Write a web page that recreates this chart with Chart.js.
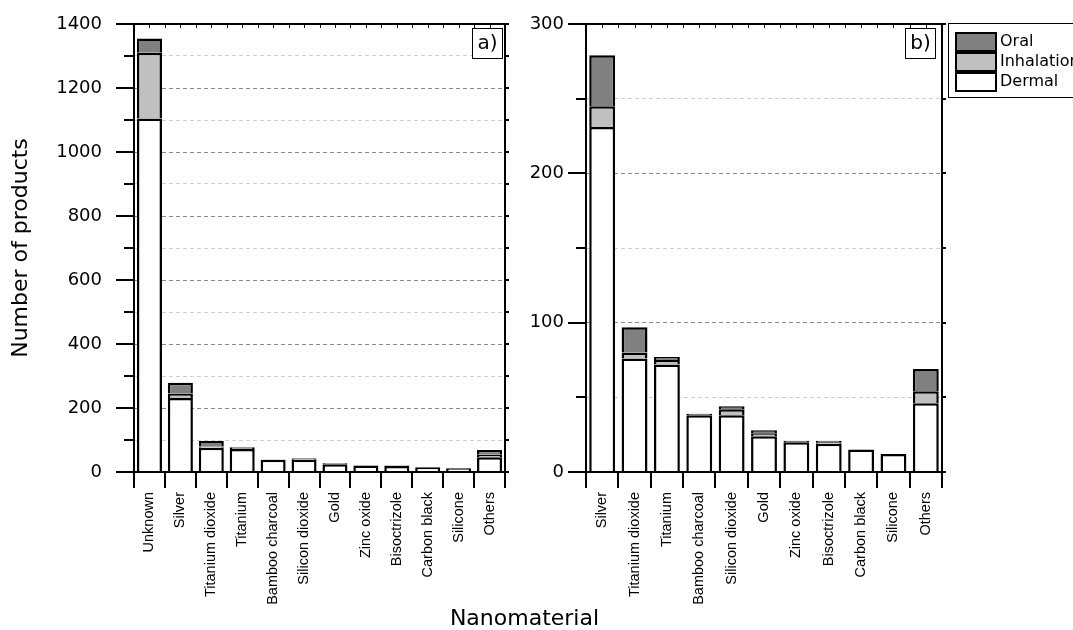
<!DOCTYPE html>
<html>
<head>
<meta charset="utf-8">
<script src="https://cdn.jsdelivr.net/npm/chart.js@4"></script>
<style>
  html, body { margin: 0; padding: 0; background: #fff; }
  #wrap { position: relative; width: 1073px; height: 630px; overflow: hidden; }
  canvas { position: absolute; top: 0; }
  #cA { left: 0; }
  #cB { left: 505px; }
  #xtitle { position: absolute; left: 0; width: 1049px; top: 605px; text-align: center;
            font-family: 'DejaVu Sans', sans-serif; font-size: 22px; line-height: 26px; color: #000; }
</style>
</head>
<body>
<div id="wrap">
  <canvas id="cA" width="540" height="630"></canvas>
  <canvas id="cB" width="568" height="630"></canvas>
  <div id="xtitle">Nanomaterial</div>
</div>
<script>
// ---- data ----
const categories = ['Unknown', 'Silver', 'Titanium dioxide', 'Titanium', 'Bamboo charcoal',
  'Silicon dioxide', 'Gold', 'Zinc oxide', 'Bisoctrizole', 'Carbon black', 'Silicone', 'Others'];
const dermal     = [1105, 231, 76, 72, 38, 38, 24, 20, 19, 15, 12, 46];
const inhalation = [205, 14, 4, 3, 0, 4, 2, 0, 1, 0, 0, 8];
const oral       = [45, 34, 17, 2, 1, 2, 2, 1, 1, 0, 0, 15];
const seriesNames = ['Dermal', 'Inhalation', 'Oral'];
const yTicksA = [0, 200, 400, 600, 800, 1000, 1200, 1400];
const yTicksB = [0, 100, 200, 300];
const yTitle = 'Number of products';

// ---- styling ----
Chart.defaults.font.family = "'DejaVu Sans', sans-serif";
Chart.defaults.color = '#000';
const fills = ['#ffffff', '#c0c0c0', '#808080'];

const decor = {
  id: 'decor',
  afterDraw(chart) {
    const o = chart.options.plugins.decor;
    const ctx = chart.ctx;
    const a = chart.chartArea;
    const ys = chart.scales.y;
    ctx.save();
    ctx.strokeStyle = '#000';
    ctx.lineWidth = 2;
    // left/right ticks
    ys.ticks.forEach(t => {
      const y = Math.round(ys.getPixelForValue(t.value));
      const major = o.majors.includes(t.value);
      ctx.beginPath();
      ctx.moveTo(a.left - (major ? 18 : 10), y);
      ctx.lineTo(a.left, y);
      ctx.moveTo(a.right, y);
      ctx.lineTo(a.right + 4, y);
      ctx.stroke();
    });
    // bottom / top ticks
    const n = chart.data.labels.length;
    const w = (a.right - a.left) / n;
    for (let k = 0; k <= n; k++) {
      const x = Math.round(a.left + k * w);
      ctx.beginPath();
      ctx.moveTo(x, a.bottom);
      ctx.lineTo(x, a.bottom + 16);
      ctx.stroke();
    }
    ctx.lineWidth = 1;
    for (let k = 0; k <= 2 * n; k++) {
      const x = Math.round(a.left + k * w / 2) + 0.5;
      ctx.beginPath();
      ctx.moveTo(x, a.top);
      ctx.lineTo(x, a.top + 4);
      ctx.stroke();
    }
    // frame
    ctx.lineWidth = 2;
    ctx.strokeRect(a.left, a.top, a.right - a.left, a.bottom - a.top);
    // panel label
    ctx.lineWidth = 1;
    const bx = a.right - o.boxRight, by = a.top + 4;
    ctx.fillStyle = '#fff';
    ctx.fillRect(bx, by, 30, 30);
    ctx.strokeRect(bx + 0.5, by + 0.5, 30, 30);
    ctx.fillStyle = '#000';
    ctx.font = "20px 'DejaVu Sans'";
    ctx.textAlign = 'center';
    ctx.textBaseline = 'middle';
    ctx.fillText(o.label, bx + 15.5, by + 16);
    // legend
    if (o.legend) {
      const lx = a.right + 6, ly = a.top - 1;
      ctx.lineWidth = 1;
      ctx.strokeRect(lx + 0.5, ly + 0.5, 200, 74);
      const ds = chart.data.datasets.slice().reverse();
      ds.forEach((d, i) => {
        const sy = ly + 10 + i * 20;
        ctx.fillStyle = d.backgroundColor;
        ctx.fillRect(lx + 8, sy, 40, 18);
        ctx.lineWidth = 2;
        ctx.strokeRect(lx + 8, sy, 40, 18);
        ctx.fillStyle = '#000';
        ctx.font = "16px 'DejaVu Sans'";
        ctx.textAlign = 'left';
        ctx.textBaseline = 'middle';
        ctx.fillText(d.label, lx + 52, sy + 9);
      });
    }
    ctx.restore();
  }
};

function makeChart(id, cats, series, cfg) {
  const datasets = series.map((vals, i) => ({
    label: seriesNames[i],
    data: vals,
    backgroundColor: fills[i],
    borderColor: '#000',
    borderWidth: 2.5,
    barPercentage: cfg.barPct,
    categoryPercentage: 1
  }));
  return new Chart(document.getElementById(id), {
    type: 'bar',
    data: { labels: cats, datasets },
    plugins: [decor],
    options: {
      responsive: false,
      animation: false,
      devicePixelRatio: 1,
      layout: { padding: { left: 0, right: cfg.padRight, top: 24, bottom: 0 } },
      plugins: {
        legend: { display: false },
        tooltip: { enabled: false },
        decor: { majors: cfg.majors, label: cfg.label, boxRight: cfg.boxRight, legend: cfg.legend }
      },
      scales: {
        x: {
          stacked: true,
          grid: { display: true, drawOnChartArea: false, drawTicks: true, tickLength: 20, tickColor: 'rgba(0,0,0,0)', color: 'rgba(0,0,0,0)' },
          border: { display: false },
          ticks: { autoSkip: false, minRotation: 90, maxRotation: 90, padding: 0,
                   font: { size: 14.5, family: "'Liberation Sans', Arial, sans-serif" }, color: '#000' },
          afterFit(s) { s.height = 158; }
        },
        y: {
          stacked: true,
          min: 0,
          max: cfg.max,
          grid: {
            drawTicks: true,
            tickLength: cfg.labelPad,
            tickColor: 'rgba(0,0,0,0)',
            lineWidth: 1,
            color: c => {
              const v = c.tick ? c.tick.value : 0;
              if (v === 0 || v === cfg.max) return 'rgba(0,0,0,0)';
              return cfg.majors.includes(v) ? '#8a8a8a' : '#cfcfcf';
            }
          },
          border: { display: false, dash: [4, 3] },
          ticks: {
            stepSize: cfg.step,
            padding: 0,
            font: { size: 18 },
            color: '#000',
            callback: v => cfg.majors.includes(v) ? String(v) : ''
          },
          title: cfg.title ? { display: true, text: yTitle, font: { size: 22 }, padding: { top: 8, bottom: 0 }, color: '#000' } : { display: false },
          afterFit(s) { s.width = cfg.yWidth; }
        }
      }
    }
  });
}

makeChart('cA', categories, [dermal, inhalation, oral], {
  max: 1400, step: 100, majors: yTicksA, barPct: 0.81, padRight: 35, yWidth: 134,
  labelPad: 32, title: true, label: 'a)', boxRight: 33, legend: false
});
makeChart('cB', categories.slice(1), [dermal.slice(1), inhalation.slice(1), oral.slice(1)], {
  max: 300, step: 50, majors: yTicksB, barPct: 0.8, padRight: 131, yWidth: 81,
  labelPad: 22, title: false, label: 'b)', boxRight: 37, legend: true
});
</script>
</body>
</html>
